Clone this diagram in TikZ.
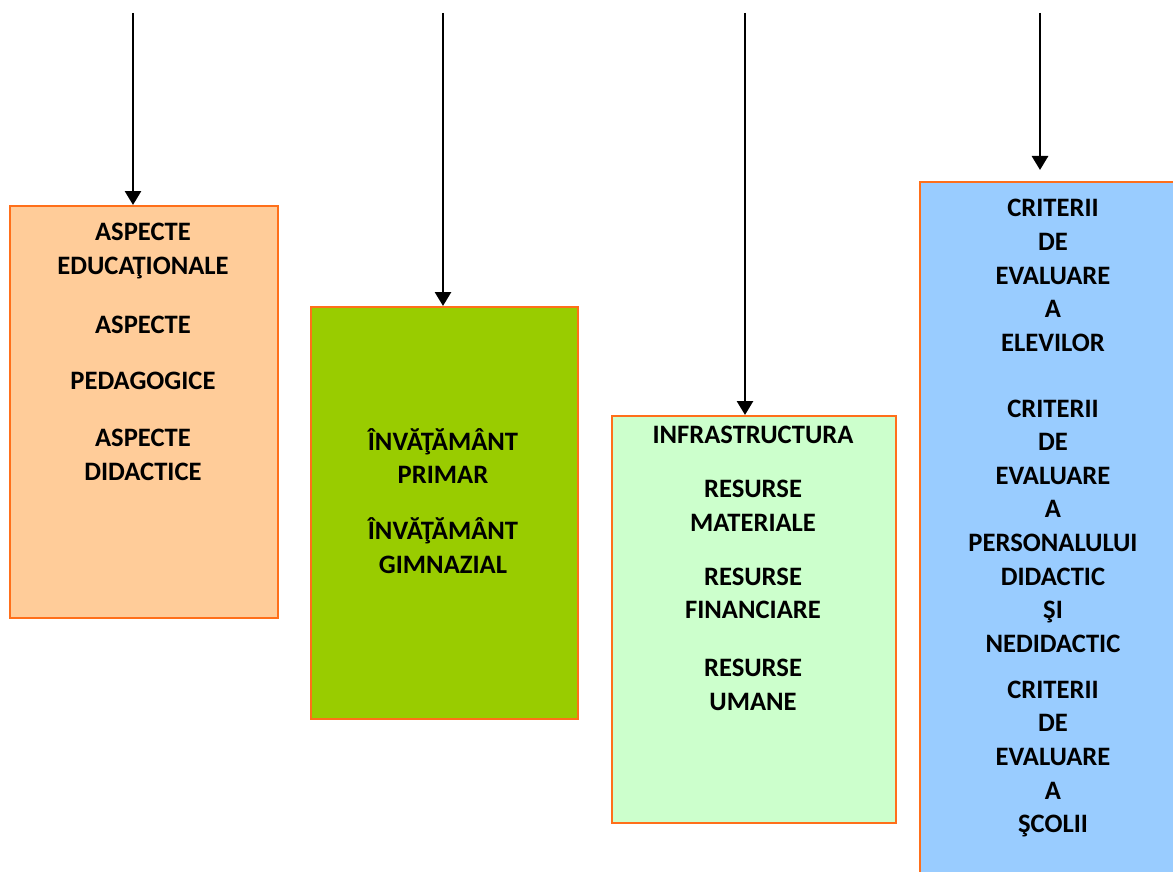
\documentclass[tikz,border=0pt]{standalone}
\usepackage{fontspec}
\setmainfont{Carlito}
\usetikzlibrary{arrows.meta,positioning}
\definecolor{peach}{HTML}{FFCC99}
\definecolor{leaf}{HTML}{99CC00}
\definecolor{mint}{HTML}{CCFFCC}
\definecolor{sky}{HTML}{99CCFF}
\definecolor{rim}{HTML}{FF6F1A}
\tikzset{
  box/.style  = {draw=rim, line width=1pt, rectangle, inner sep=0pt, anchor=north west},
  txt/.style  = {font=\fontsize{13.3}{16.8}\selectfont\bfseries, align=center, inner sep=0pt},
  feed/.style = {-{Triangle[width=8pt,length=7pt]}, line width=1.4pt}
}

\begin{document}
\begin{tikzpicture}[x=0.5pt, y=-0.5pt]
  \useasboundingbox (0,0) rectangle (1173,872);
  \clip (0,0) rectangle (1173,872);

  % the four boxes
  \node[box, fill=peach, minimum width=134pt, minimum height=206pt] (b1) at (9,205) {};
  \node[box, fill=leaf,  minimum width=133.5pt, minimum height=206pt] (b2) at (310,306) {};
  \node[box, fill=mint,  minimum width=142pt, minimum height=203.5pt] (b3) at (611,415) {};
  \node[box, fill=sky,   minimum width=140pt, minimum height=400pt] (b4) at (919,181) {};

  % arrows coming down from above
  \coordinate (a1) at (133,13);
  \coordinate (a2) at (443,13);
  \coordinate (a3) at (745,13);
  \coordinate (a4) at (1040,13);
  \draw[feed] (a1) -- (a1 |- b1.north);
  \draw[feed] (a2) -- (a2 |- b2.north);
  \draw[feed] (a3) -- (a3 |- b3.north);
  \draw[feed] (a4) -- ([yshift=5.5pt]a4 |- b4.north);

  % first box
  \node[txt] (t11) at (143,251) {ASPECTE\\EDUCAŢIONALE};
  \node[txt] (t12) at (143,325) {ASPECTE};
  \node[txt] (t13) at (143,381) {PEDAGOGICE};
  \node[txt] (t14) at (143,455) {ASPECTE\\DIDACTICE};

  % second box
  \node[txt] (t21) at (443,456) {ÎNVĂŢĂMÂNT\\PRIMAR};
  \node[txt] (t22) at (443,545.5) {ÎNVĂŢĂMÂNT\\GIMNAZIAL};

  % third box
  \node[txt] (t31) at (753,435) {INFRASTRUCTURA};
  \node[txt] (t32) at (753,505.5) {RESURSE\\MATERIALE};
  \node[txt] (t33) at (753,593.5) {RESURSE\\FINANCIARE};
  \node[txt] (t34) at (753,685) {RESURSE\\UMANE};

  % fourth box
  \node[txt] (t41) at (1053,275.5) {CRITERII\\DE\\EVALUARE\\A\\ELEVILOR};
  \node[txt] (t42) at (1053,526) {CRITERII\\DE\\EVALUARE\\A\\PERSONALULUI\\DIDACTIC\\ŞI\\NEDIDACTIC};
  \node[txt] (t43) at (1053,759) {CRITERII\\DE\\EVALUARE\\A\\ŞCOLII};
\end{tikzpicture}
\end{document}
